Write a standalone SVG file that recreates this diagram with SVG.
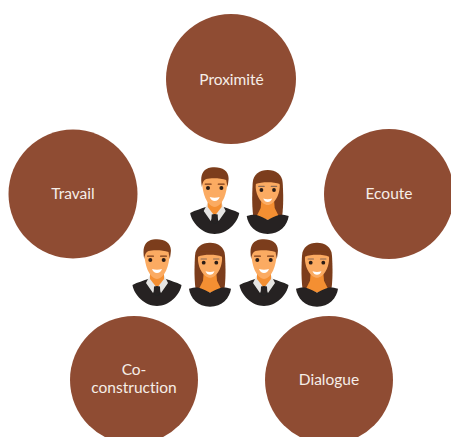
<svg xmlns="http://www.w3.org/2000/svg" width="451" height="437" viewBox="0 0 451 437">
<style>
.c{fill:#8f4c33}
.t{font-family:"Lato","Liberation Sans",sans-serif;font-size:15.5px;fill:#f6eee8;text-anchor:middle;font-variant-ligatures:none}
.skin{fill:#fbab62}
.neck{fill:#f48f30}
.hair{fill:#7c3d1a}
.suit{fill:#252221}
.eye{fill:#2a1c16}
</style>
<defs>
<filter id="soft" x="-5%" y="-5%" width="110%" height="110%"><feGaussianBlur stdDeviation="0.35"/></filter>
<g id="man">
<path class="suit" d="M-24.500 46C-19 43-14 42-9 40L9 40C14 42 19 43 24.500 46C23 56 12 67 0 67C-12 67-23 56-24.500 46Z"/>
<path fill="#e6e5e3" d="M-11 44L-7 36L7 36L11 44L4 54L0 47L-4 54Z"/>
<path class="neck" d="M-7 30L7 30L7 40L0 49L-7 40Z"/>
<path class="suit" d="M-3 47.500L0 47L3 47.500L3.300 53L1.500 56.500L-1.500 56.500L-3.300 53Z"/>
<path class="skin" d="M-12.500 11C-13.500 26-7 40 0 40C7 40 13.500 26 12.500 11C8 8-8 8-12.500 11Z"/>
<path class="hair" d="M-12.800 20C-15 8-12 2-4 .5C6-1 15 3 13.800 13C13.500 15.500 13.200 18 12.800 20L11.500 13C6 11-4 11-8.500 12C-11 13-12 15-12.800 20Z"/>
<rect class="hair" x="-10" y="16.500" width="7" height="1.300" rx=".6"/>
<rect class="hair" x="3" y="16.500" width="7" height="1.300" rx=".6"/>
<circle class="eye" cx="-6.700" cy="21" r="2"/>
<circle class="eye" cx="6.700" cy="21" r="2"/>
<path fill="#fff" d="M-5 30Q0 31.500 5 30Q3.500 34 0 34Q-3.500 34-5 30Z"/>
</g>
<g id="woman">
<path class="hair" d="M-14.500 46C-16 34-15.500 22-15 13C-14.500 4-8 0 0 0C8 0 14.500 4 15 13C15.500 22 16 34 14.500 46Z"/>
<path class="neck" d="M-6 26L6 26L7 38L11 46L0 50L-11 46L-7 38Z"/>
<path class="skin" d="M-12 13C-13 25-6 35 0 35C6 35 13 25 12 13C6 10-6 10-12 13Z"/>
<path class="hair" d="M-13 19C-14 13-12 10-9 9L9 9C12 10 14 13 13 19L12 14C6 11.500-6 11.500-12 14Z"/>
<path class="suit" d="M-21 46C-17 45-14 44.500-11 45C-6 47-3 48 0 50C3 48 6 47 11 45C14 44.500 17 45 21 46C20 55 12 64 0 64C-12 64-20 55-21 46Z"/>
<rect fill="#8a6a55" x="-9.500" y="15.800" width="6.500" height="1.100" rx=".5"/>
<rect fill="#8a6a55" x="3" y="15.800" width="6.500" height="1.100" rx=".5"/>
<circle class="eye" cx="-6.300" cy="20" r="1.900"/>
<circle class="eye" cx="6.300" cy="20" r="1.900"/>
<path fill="#fff" d="M-4.500 28.500Q0 30 4.500 28.500Q3 32 0 32Q-3 32-4.500 28.500Z"/>
</g>
</defs>
<rect width="451" height="437" fill="#fff"/>
<g id="node-proximite"><circle class="c" cx="231" cy="79" r="65"/><text class="t" x="231.500" y="84.500">Proximité</text></g>
<g id="node-travail"><circle class="c" cx="73" cy="194" r="64.500"/><text class="t" x="73" y="199">Travail</text></g>
<g id="node-ecoute"><circle class="c" cx="389" cy="194" r="65"/><text class="t" x="389" y="199">Ecoute</text></g>
<g id="node-coconstruction"><circle class="c" cx="134" cy="380" r="64"/><text class="t" x="134" y="375">Co-</text><text class="t" x="134" y="393">construction</text></g>
<g id="node-dialogue"><circle class="c" cx="329" cy="380" r="64"/><text class="t" x="329" y="385">Dialogue</text></g>
<g id="people" filter="url(#soft)">
<use href="#man" x="214.700" y="167"/>
<use href="#woman" x="267.700" y="170"/>
<use href="#man" x="157" y="239"/>
<use href="#woman" x="210" y="242.700"/>
<use href="#man" x="264" y="239"/>
<use href="#woman" x="317" y="242.700"/>
</g>
<g id="connectors"/>
</svg>
